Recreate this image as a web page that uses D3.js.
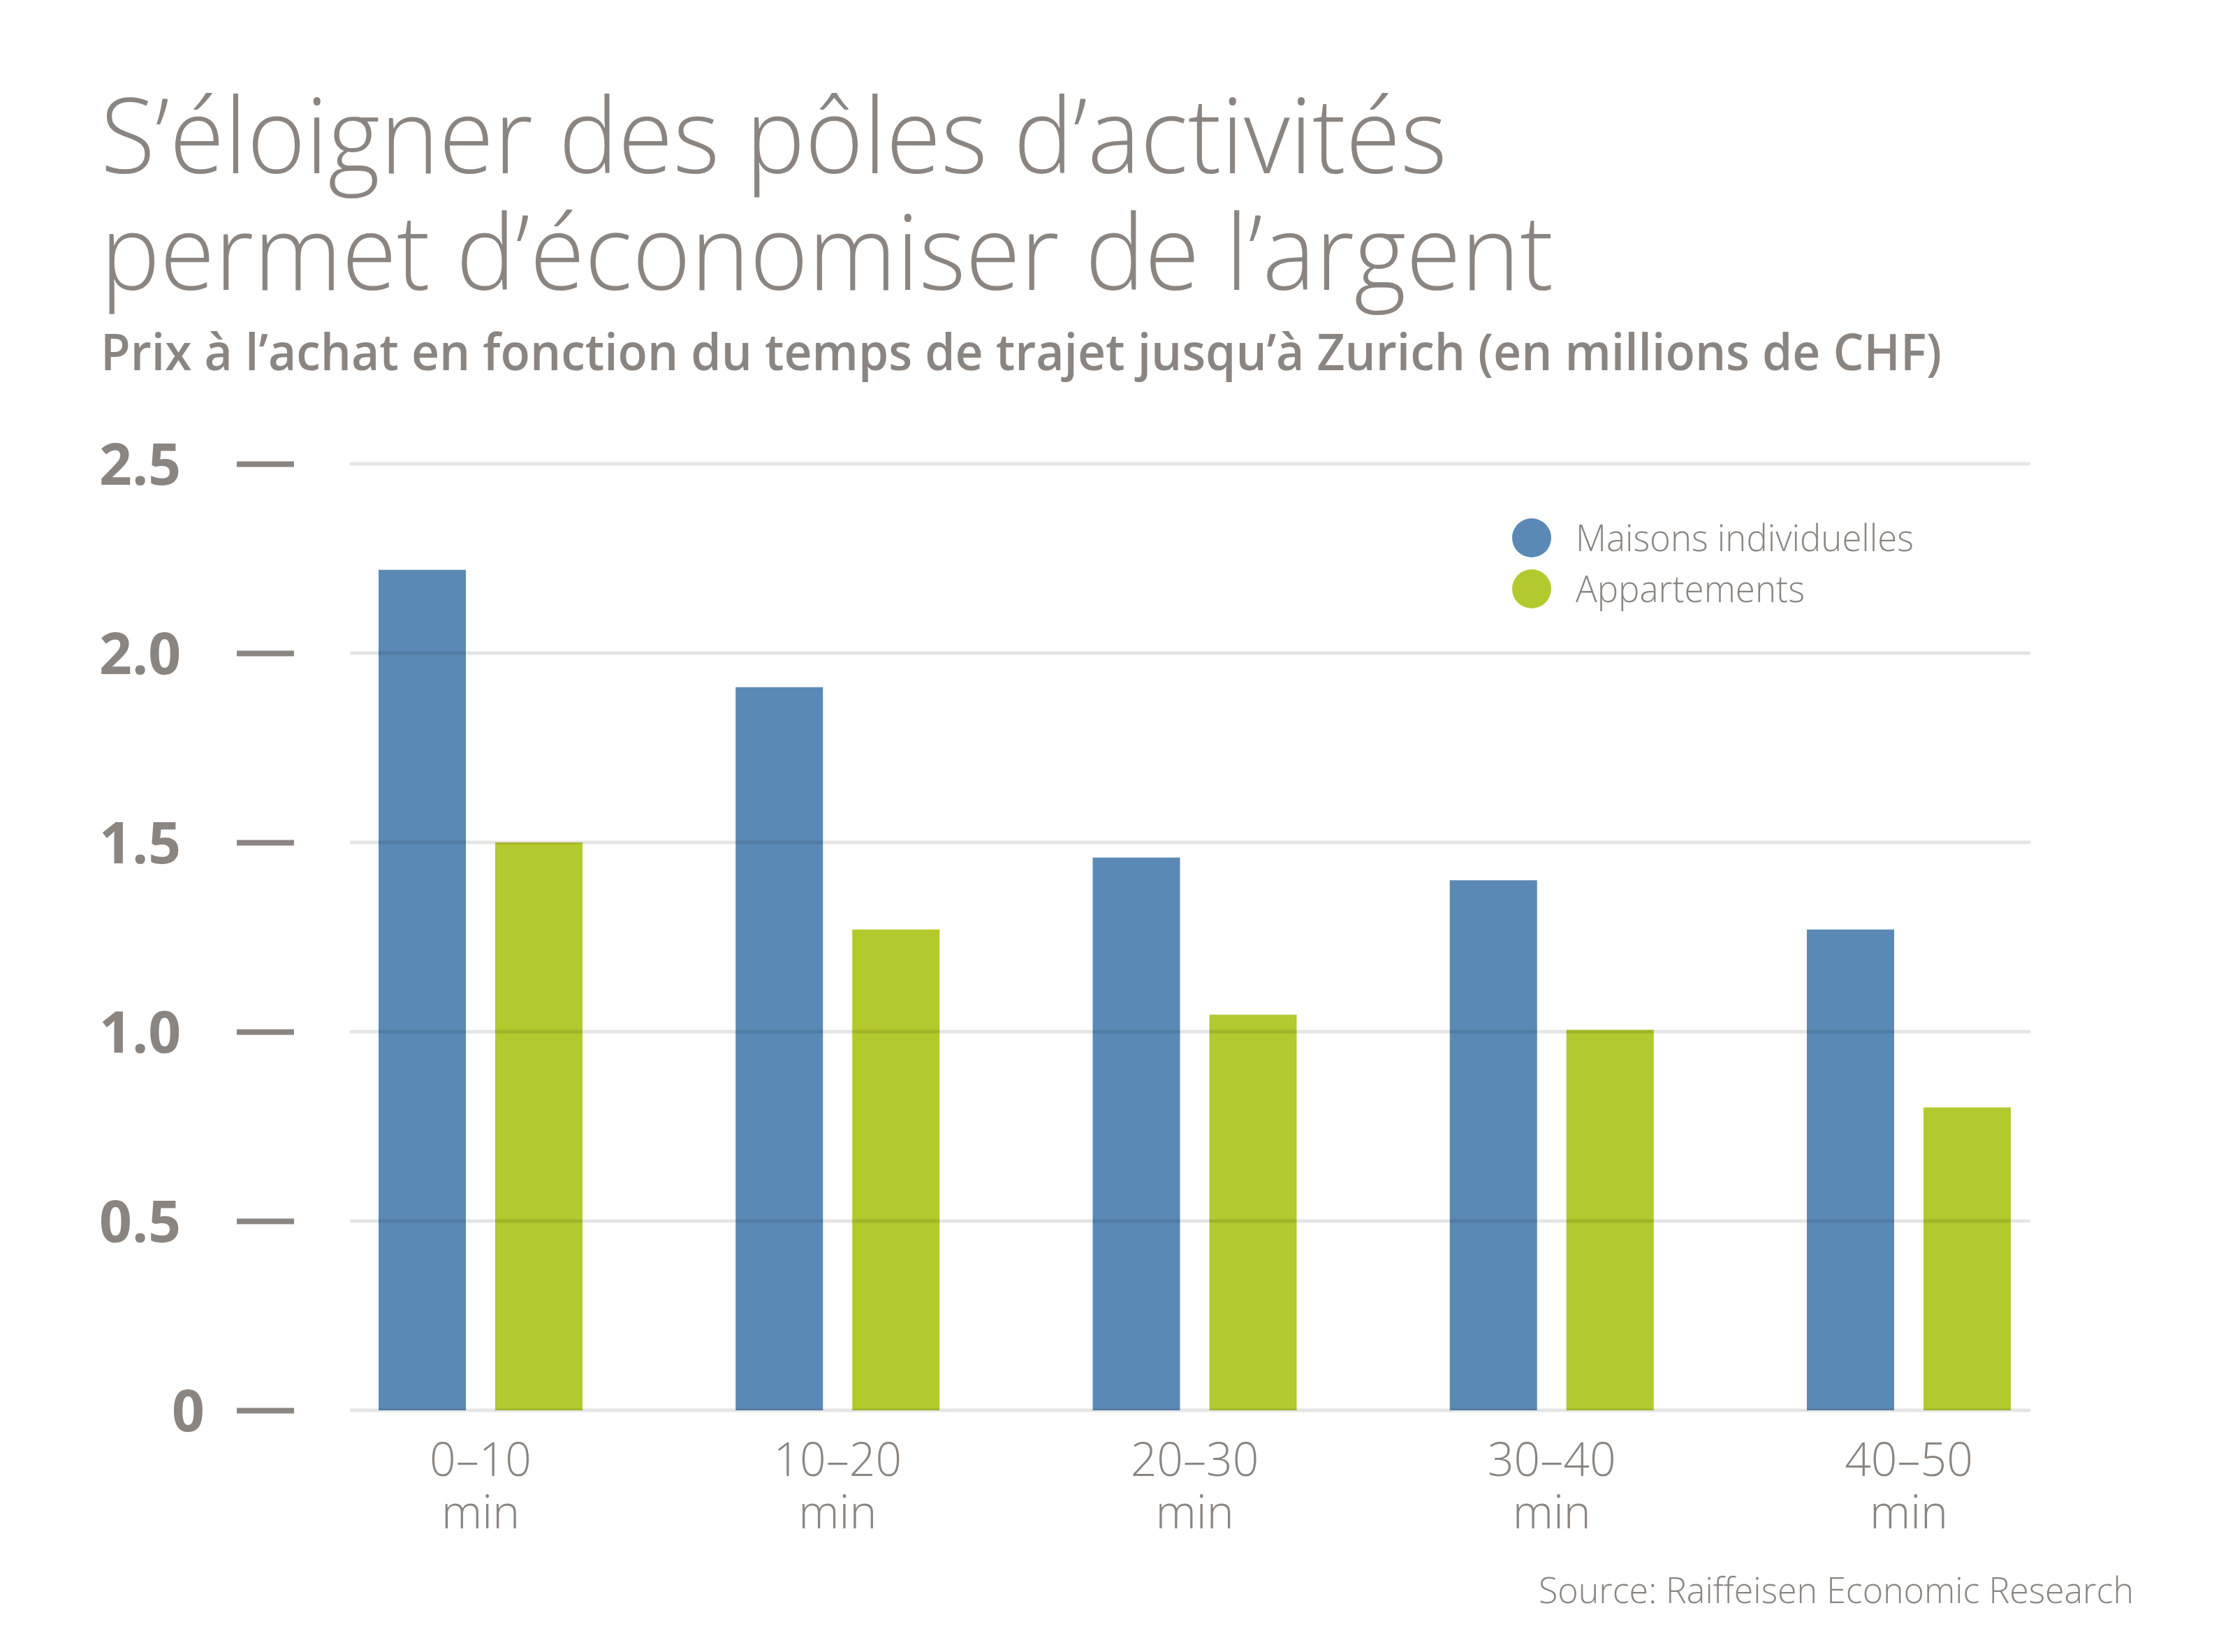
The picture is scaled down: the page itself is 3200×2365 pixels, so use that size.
<!DOCTYPE html>
<html>
<head>
<meta charset="utf-8">
<script src="https://cdn.jsdelivr.net/npm/d3@7"></script>
<style>
  body { margin: 0; background: #fff; }
  text { font-family: "Open Sans", "Noto Sans", sans-serif; fill: #8b8581; }
</style>
</head>
<body>
<svg id="chart"></svg>
<script>
// data (millions CHF)
const categories = ["0–10", "10–20", "20–30", "30–40", "40–50"];
const unitLabel = "min";
const seriesNames = ["Maisons individuelles", "Appartements"];
const maisons = [2.22, 1.91, 1.46, 1.40, 1.27];
const appartements = [1.50, 1.27, 1.045, 1.005, 0.80];
const yTicks = [0, 0.5, 1, 1.5, 2, 2.5];

const titleLines = ["S’éloigner des pôles d’activités", "permet d’économiser de l’argent"];
const subtitle = "Prix à l’achat en fonction du temps de trajet jusqu’à Zurich (en millions de CHF)";
const source = "Source: Raiffeisen Economic Research";

class GroupedBarChart {
    colors = ["#5b89b5", "#b3c92e"]

    constructor(svg, width = 3200, height = 2365) {
        this.svg = d3.select(svg);
        this.width = width;
        this.height = height;
    }

    initialize() {
        this.svg.attr("width", this.width).attr("height", this.height);
        this.svg.append("rect").attr("width", this.width).attr("height", this.height).attr("fill", "#fff");

        // title + subtitle
        let t = this.svg.append("g");
        titleLines.forEach((line, i) => {
            t.append("text")
                .attr("x", 144).attr("y", 248 + i * 167)
                .attr("font-size", 150).attr("font-weight", 300)
                .attr("textLength", i == 0 ? 1928 : 2080)
                .attr("lengthAdjust", "spacingAndGlyphs")
                .text(line);
        });
        t.append("text")
            .attr("x", 144).attr("y", 530)
            .attr("font-size", 72).attr("font-weight", 600)
            .attr("textLength", 2636).attr("lengthAdjust", "spacingAndGlyphs")
            .text(subtitle);

        this.svg.append("text")
            .attr("x", 3055).attr("y", 2295)
            .attr("text-anchor", "end")
            .attr("font-size", 52).attr("font-weight", 300)
            .attr("textLength", 852).attr("lengthAdjust", "spacingAndGlyphs")
            .text(source);
    }

    update() {
        let rows = categories.map((c, i) => ({ cat: c, values: [maisons[i], appartements[i]] }));

        this.y = d3.scaleLinear().domain([0, 2.5]).range([2019, 664]);
        this.x0 = d3.scaleBand().domain(categories).range([432.4, 2988.6]).padding(0);
        this.x1 = d3.scaleBand().domain(seriesNames).range([0, 292]).paddingInner(0.2515).paddingOuter(0);
        let groupOffset = (this.x0.bandwidth() - 292) / 2;

        // bars
        let groups = this.svg.append("g")
            .selectAll("g")
            .data(rows)
            .join("g")
            .attr("transform", d => `translate(${this.x0(d.cat) + groupOffset},0)`);
        groups.selectAll("rect")
            .data(d => d.values.map((v, k) => ({ key: seriesNames[k], v: v, k: k })))
            .join("rect")
            .attr("x", d => this.x1(d.key))
            .attr("y", d => this.y(d.v))
            .attr("width", this.x1.bandwidth())
            .attr("height", d => this.y(0) - this.y(d.v))
            .attr("fill", d => this.colors[d.k]);

        // gridlines on top, translucent so they show through the bars
        this.svg.append("g")
            .selectAll("line")
            .data(yTicks)
            .join("line")
            .attr("x1", 501).attr("x2", 2907)
            .attr("y1", d => this.y(d)).attr("y2", d => this.y(d))
            .attr("stroke", "rgba(0,0,0,0.1)")
            .attr("stroke-width", 5);

        // y axis: dash ticks + bold labels
        let yAxis = this.svg.append("g")
            .attr("transform", "translate(421,0)")
            .call(d3.axisLeft(this.y).tickValues(yTicks).tickSize(82).tickPadding(0)
                .tickFormat(d => d == 0 ? "0" : d3.format(".1f")(d)));
        yAxis.select(".domain").remove();
        yAxis.selectAll(".tick line").attr("stroke", "#8b8581").attr("stroke-width", 8);
        yAxis.selectAll(".tick text")
            .attr("fill", "#8b8581")
            .attr("font-family", "'Open Sans', 'Noto Sans', sans-serif")
            .attr("font-size", 82).attr("font-weight", 700)
            .attr("dy", "0.36em")
            .attr("text-anchor", d => d == 0 ? "end" : "start")
            .attr("x", d => d == 0 ? 293 - 421 : 142 - 421);

        // x labels, two lines
        let xl = this.svg.append("g")
            .selectAll("text")
            .data(categories)
            .join("text")
            .attr("text-anchor", "middle")
            .attr("font-size", 66).attr("font-weight", 300)
            .attr("transform", d => `translate(${this.x0(d) + this.x0.bandwidth() / 2},0)`);
        xl.append("tspan").attr("x", 0).attr("y", 2113).text(d => d);
        xl.append("tspan").attr("x", 0).attr("y", 2188).text(unitLabel);

        // legend
        let legend = this.svg.append("g")
            .selectAll("g")
            .data(seriesNames)
            .join("g")
            .attr("transform", (d, i) => `translate(2193,${770 + i * 73})`);
        legend.append("circle").attr("r", 28).attr("fill", (d, i) => this.colors[i]);
        legend.append("text")
            .attr("x", 63).attr("y", 19)
            .attr("font-size", 54).attr("font-weight", 300)
            .attr("textLength", (d, i) => i == 0 ? 484 : 328)
            .attr("lengthAdjust", "spacingAndGlyphs")
            .text(d => d);
    }
}

let chart = new GroupedBarChart("#chart");
chart.initialize();
chart.update();
</script>
</body>
</html>
